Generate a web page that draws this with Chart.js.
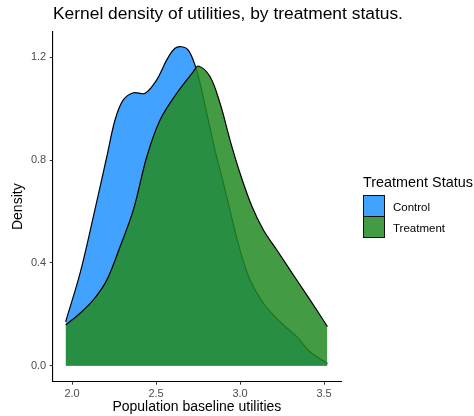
<!DOCTYPE html>
<html>
<head>
<meta charset="utf-8">
<script src="https://cdn.jsdelivr.net/npm/chart.js@4.4.1/dist/chart.umd.min.js"></script>
<style>
  body { margin: 0; background: #fff; font-family: "Liberation Sans", Arial, sans-serif; }
  #wrap { position: relative; width: 474px; height: 416px; }
  #densityChart { position: absolute; left: 0; top: 0; }
  .txt { position: absolute; white-space: nowrap; color: #000; }
  #chartTitle { left: 53px; top: 3px; font-size: 17.4px; line-height: 20px; }
  #legendTitle { left: 363px; top: 174px; font-size: 14.4px; line-height: 16px; }
  .key { position: absolute; left: 363px; width: 22px; height: 22px; box-sizing: border-box; border: 1.2px solid #111; background: #fff; }
  .key span { display: block; width: 100%; height: 100%; }
  .lab { left: 393px; font-size: 11.5px; line-height: 14px; }
</style>
</head>
<body>
<div id="wrap">
  <canvas id="densityChart" width="474" height="416"></canvas>
  <div class="txt" id="chartTitle">Kernel density of utilities, by treatment status.</div>
  <div class="txt" id="legendTitle">Treatment Status</div>
  <div class="key" style="top:195px"><span id="keyControl"></span></div>
  <div class="key" style="top:216px"><span id="keyTreatment"></span></div>
  <div class="txt lab" style="top:200px">Control</div>
  <div class="txt lab" style="top:221px">Treatment</div>
</div>
<script>
// values
const controlX = [1.962, 2.048, 2.127, 2.207, 2.256, 2.305, 2.365, 2.435, 2.504, 2.564, 2.613, 2.653, 2.692, 2.732, 2.762, 2.802, 2.851, 2.901, 2.940, 3.000, 3.060, 3.139, 3.238, 3.338, 3.417, 3.520];
const controlY = [0.171, 0.360, 0.580, 0.813, 0.956, 1.034, 1.062, 1.060, 1.112, 1.190, 1.235, 1.241, 1.228, 1.170, 1.099, 0.982, 0.839, 0.710, 0.605, 0.450, 0.333, 0.243, 0.171, 0.113, 0.054, 0.009];

const treatmentX = [1.962, 2.048, 2.127, 2.207, 2.286, 2.365, 2.445, 2.524, 2.623, 2.722, 2.752, 2.821, 2.881, 2.940, 3.000, 3.070, 3.139, 3.218, 3.298, 3.377, 3.456, 3.520];
const treatmentY = [0.158, 0.204, 0.256, 0.333, 0.463, 0.606, 0.813, 0.956, 1.060, 1.144, 1.166, 1.125, 1.021, 0.879, 0.749, 0.621, 0.528, 0.451, 0.372, 0.295, 0.217, 0.152];

const xTicks = [2.0, 2.5, 3.0, 3.5];
const yTicks = [0.0, 0.4, 0.8, 1.2];

const controlColor = '#42a2ff';
const treatmentColor = 'rgba(34, 139, 34, 0.85)';

document.getElementById('keyControl').style.background = controlColor;
document.getElementById('keyTreatment').style.background = treatmentColor;

function toPoints(xs, ys) {
    return xs.map((x, i) => ({ x: x, y: ys[i] }));
}

const axisFont = { family: '"Liberation Sans", Arial, sans-serif', size: 11 };
const titleFont = { family: '"Liberation Sans", Arial, sans-serif', size: 14 };

const ctx = document.getElementById('densityChart').getContext('2d');
new Chart(ctx, {
    type: 'line',
    data: {
        datasets: [
            {
                label: 'Control',
                data: toPoints(controlX, controlY),
                backgroundColor: controlColor,
                borderColor: '#000',
                borderWidth: 1.2,
                fill: 'origin',
                pointRadius: 0,
                tension: 0.35,
                order: 2
            },
            {
                label: 'Treatment',
                data: toPoints(treatmentX, treatmentY),
                backgroundColor: treatmentColor,
                borderColor: '#000',
                borderWidth: 1.2,
                fill: 'origin',
                pointRadius: 0,
                tension: 0.35,
                order: 1
            }
        ]
    },
    options: {
        responsive: false,
        animation: false,
        devicePixelRatio: 1,
        layout: { padding: { left: 5.6, right: 133, top: 31.7, bottom: 0 } },
        plugins: {
            legend: { display: false },
            tooltip: { enabled: false }
        },
        scales: {
            x: {
                type: 'linear',
                min: 1.885,
                max: 3.601,
                afterBuildTicks: s => { s.ticks = xTicks.map(v => ({ value: v })); },
                afterFit: s => { s.height = 416 - 381.7; },
                ticks: { color: '#4d4d4d', font: axisFont, padding: 2.3, maxRotation: 0, callback: v => v.toFixed(1) },
                grid: { drawOnChartArea: false, drawTicks: true, tickLength: 3, color: '#333' },
                border: { display: true, color: '#000', width: 1.1 },
                title: { display: true, text: 'Population baseline utilities', color: '#000', font: titleFont, padding: { top: 0, bottom: 0 } }
            },
            y: {
                type: 'linear',
                min: -0.0623,
                max: 1.2996,
                afterBuildTicks: s => { s.ticks = yTicks.map(v => ({ value: v })); },
                afterFit: s => { s.width = 52.7 - 5.6; },
                ticks: { color: '#4d4d4d', font: axisFont, padding: 3.5, callback: v => v.toFixed(1) },
                grid: { drawOnChartArea: false, drawTicks: true, tickLength: 3, color: '#333' },
                border: { display: true, color: '#000', width: 1.1 },
                title: { display: true, text: 'Density', color: '#000', font: titleFont, padding: { top: 4, bottom: 0 } }
            }
        }
    }
});
</script>
</body>
</html>
